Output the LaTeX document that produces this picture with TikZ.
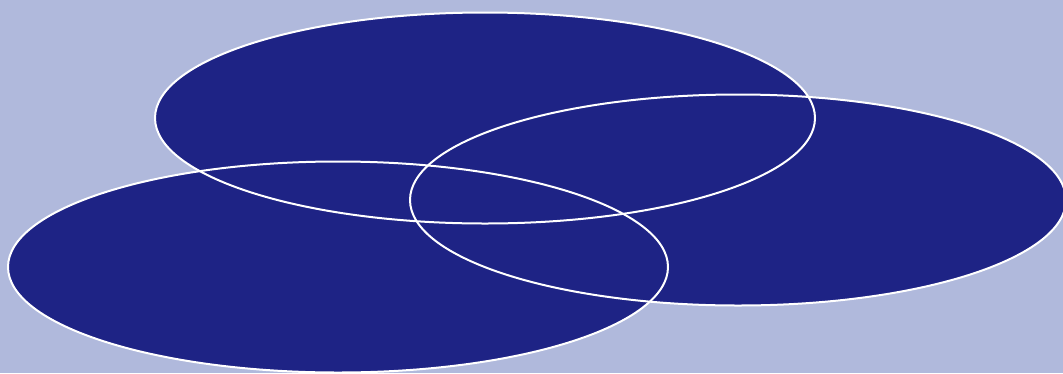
\documentclass[tikz,border=0pt]{standalone}
\definecolor{bgc}{HTML}{B0B9DC}
\definecolor{navy}{HTML}{1E2385}
\begin{document}
\begin{tikzpicture}[x=1pt,y=-1pt,
  blob/.style={fill=navy},
  rim/.style={draw=white,line width=2pt}]
\path[use as bounding box,fill=bgc] (0,0) rectangle (1063,373);
\begin{scope}
\clip (0,0) rectangle (1063,373);
\fill[blob] (485,118) ellipse [x radius=330,y radius=105.5];
\fill[blob] (738,200) ellipse [x radius=328,y radius=105.5];
\fill[blob] (338,267) ellipse [x radius=330,y radius=105.5];
\draw[rim] (485,118) ellipse [x radius=330,y radius=105.5];
\draw[rim] (738,200) ellipse [x radius=328,y radius=105.5];
\draw[rim] (338,267) ellipse [x radius=330,y radius=105.5];
\end{scope}
\end{tikzpicture}
\end{document}
